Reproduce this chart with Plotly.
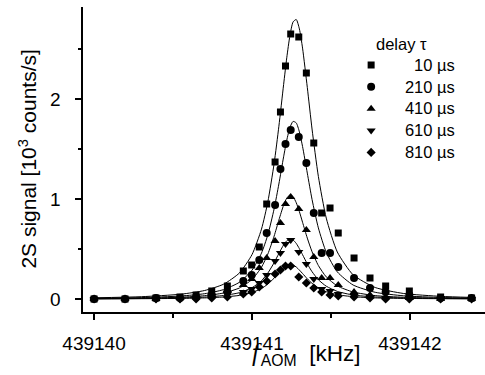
import plotly.graph_objects as go

# ---- data ----
freq_pts = [439140.000, 439140.196, 439140.392, 439140.544, 439140.646, 439140.745, 439140.844,
            439140.945, 439140.998, 439141.046, 439141.093, 439141.146, 439141.180, 439141.212,
            439141.245, 439141.296, 439141.344, 439141.391, 439141.441, 439141.494, 439141.546,
            439141.646, 439141.747, 439141.846, 439141.996, 439142.194, 439142.390]

sig_10 = [0.00, 0.00, 0.01, 0.02, 0.04, 0.08, 0.13, 0.28, 0.34, 0.52, 0.95, 1.37, 1.87, 2.33,
          2.65, 2.62, 2.26, 1.56, 0.86, 0.91, 0.66, 0.41, 0.21, 0.13, 0.08, 0.02, 0.01]
sig_210 = [0.00, 0.00, 0.01, 0.01, 0.02, 0.04, 0.07, 0.18, 0.24, 0.39, 0.66, 0.94, 1.30, 1.55,
           1.69, 1.62, 1.36, 0.86, 0.46, 0.46, 0.32, 0.21, 0.11, 0.07, 0.04, 0.01, 0.01]
sig_410 = [0.00, 0.00, 0.00, 0.01, 0.02, 0.04, 0.09, 0.14, 0.20, 0.31, 0.41, 0.58, 0.76, 0.95,
           1.02, 0.90, 0.69, 0.42, 0.21, 0.21, 0.14, 0.07, 0.04, 0.02, 0.01, 0.00, 0.00]
sig_610 = [0.00, 0.00, 0.00, 0.00, 0.01, 0.03, 0.05, 0.07, 0.10, 0.16, 0.24, 0.38, 0.46, 0.55,
           0.59, 0.47, 0.35, 0.20, 0.10, 0.08, 0.05, 0.03, 0.02, 0.01, 0.01, 0.00, 0.00]
sig_810 = [0.00, 0.00, 0.00, 0.00, 0.00, 0.01, 0.02, 0.05, 0.07, 0.12, 0.18, 0.25, 0.29, 0.33,
           0.33, 0.22, 0.16, 0.11, 0.07, 0.04, 0.03, 0.02, 0.01, 0.00, 0.00, 0.00, 0.00]

# fitted line shapes
fit_freq = [439140.00, 439140.30, 439140.55, 439140.70, 439140.82, 439140.92, 439141.00,
            439141.06, 439141.10, 439141.14, 439141.17, 439141.20, 439141.22, 439141.24,
            439141.26, 439141.28, 439141.30, 439141.32, 439141.35, 439141.38, 439141.42,
            439141.47, 439141.54, 439141.64, 439141.78, 439141.96, 439142.20, 439142.39]
fit_10 = [0.012, 0.023, 0.048, 0.085, 0.148, 0.260, 0.444, 0.699, 0.970, 1.355, 1.727, 2.144,
          2.412, 2.634, 2.771, 2.795, 2.701, 2.509, 2.116, 1.700, 1.226, 0.809, 0.470, 0.242,
          0.115, 0.055, 0.026, 0.016]
fit_210 = [0.007, 0.014, 0.030, 0.053, 0.094, 0.167, 0.288, 0.459, 0.641, 0.902, 1.150, 1.422,
           1.588, 1.715, 1.776, 1.761, 1.671, 1.525, 1.259, 0.996, 0.711, 0.467, 0.271, 0.140,
           0.067, 0.032, 0.015, 0.010]
fit_410 = [0.004, 0.008, 0.018, 0.033, 0.060, 0.110, 0.195, 0.318, 0.449, 0.629, 0.789, 0.939,
           1.009, 1.040, 1.023, 0.963, 0.873, 0.767, 0.609, 0.473, 0.335, 0.221, 0.131, 0.070,
           0.034, 0.017, 0.008, 0.005]
fit_610 = [0.002, 0.005, 0.011, 0.019, 0.035, 0.063, 0.113, 0.183, 0.259, 0.363, 0.455, 0.541,
           0.582, 0.600, 0.590, 0.556, 0.503, 0.443, 0.351, 0.273, 0.193, 0.128, 0.076, 0.040,
           0.020, 0.010, 0.005, 0.003]
fit_810 = [0.001, 0.003, 0.006, 0.011, 0.020, 0.036, 0.065, 0.105, 0.149, 0.209, 0.262, 0.311,
           0.335, 0.345, 0.339, 0.320, 0.289, 0.255, 0.202, 0.157, 0.111, 0.073, 0.043, 0.023,
           0.011, 0.006, 0.003, 0.002]

delay_labels = ["10 \u00b5s", "210 \u00b5s", "410 \u00b5s", "610 \u00b5s", "810 \u00b5s"]
label_pad = ["\u2007\u2007\u00a0", "\u2007\u00a0", "\u2007\u00a0", "\u2007\u00a0", "\u2007\u00a0"]
x_ticks = [439140, 439141, 439142]
y_ticks = [0, 1, 2]

series = [sig_10, sig_210, sig_410, sig_610, sig_810]
fits = [fit_10, fit_210, fit_410, fit_610, fit_810]
symbols = ["square", "circle", "triangle-up", "triangle-down", "diamond"]
sizes = [7, 8, 8, 8, 7]

FONT = "Liberation Sans, Arial, sans-serif"

fig = go.Figure()
for f in fits:
    fig.add_trace(go.Scatter(x=fit_freq, y=f, mode="lines",
                             line=dict(color="black", width=1, shape="spline", smoothing=0.6),
                             showlegend=False, hoverinfo="skip"))
for s, lab, pad, sym, sz in zip(series, delay_labels, label_pad, symbols, sizes):
    fig.add_trace(go.Scatter(x=freq_pts, y=s, mode="markers",
                             name='<span style="font-size:16.5px">' + pad + lab + "</span>",
                             marker=dict(symbol=sym, size=sz, color="black",
                                         line=dict(width=0))))

xr = [439139.930, 439142.475]
yr = [-0.13, 2.92]

fig.update_layout(
    width=485, height=375,
    margin=dict(l=83, r=0, t=7, b=63),
    paper_bgcolor="white", plot_bgcolor="white",
    font=dict(family=FONT, color="black"),
    xaxis=dict(range=xr, showline=True, linewidth=2, linecolor="black",
               ticks="outside", ticklen=6, tickwidth=1.5, tickcolor="black",
               tickmode="array", tickvals=x_ticks, ticktext=[str(v) for v in x_ticks],
               tickfont=dict(family=FONT, size=19, color="black"), ticklabelstandoff=7,
               minor=dict(dtick=0.5, tick0=439140, ticks="outside", ticklen=4,
                          tickwidth=1.5, tickcolor="black", showgrid=False),
               showgrid=False, zeroline=False),
    xaxis2=dict(overlaying="x", side="top", matches="x", anchor="y",
                showline=True, linewidth=2, linecolor="black",
                ticks="inside", ticklen=6, tickwidth=1.5, tickcolor="black",
                tickmode="array", tickvals=x_ticks, showticklabels=False,
                minor=dict(dtick=0.5, tick0=439140, ticks="inside", ticklen=3,
                           tickwidth=1.5, tickcolor="black", showgrid=False),
                showgrid=False, zeroline=False),
    yaxis=dict(range=yr, showline=True, linewidth=2, linecolor="black",
               ticks="outside", ticklen=6, tickwidth=1.5, tickcolor="black",
               tickmode="array", tickvals=y_ticks,
               ticktext=[str(v) + "\u2007" for v in y_ticks],
               tickfont=dict(family=FONT, size=19, color="black"),
               minor=dict(dtick=0.5, tick0=0, ticks="outside", ticklen=3,
                          tickwidth=1.5, tickcolor="black", showgrid=False),
               showgrid=False, zeroline=False),
    yaxis2=dict(overlaying="y", side="right", matches="y", anchor="x",
                showline=False, ticks="inside", ticklen=3, tickwidth=1.5, tickcolor="black",
                tickmode="array", tickvals=y_ticks, showticklabels=False,
                minor=dict(dtick=0.5, tick0=0, ticks="inside", ticklen=3,
                           tickwidth=1.5, tickcolor="black", showgrid=False),
                showgrid=False, zeroline=False),
    legend=dict(x=0.667, y=0.862, xanchor="left", yanchor="top",
                bgcolor="rgba(0,0,0,0)", borderwidth=0,
                font=dict(family=FONT, size=14.5, color="black"),
                tracegroupgap=0),
    showlegend=True,
    annotations=[
        dict(text="delay \u03c4", xref="paper", yref="paper", x=0.7235, y=0.878,
             xanchor="left", yanchor="middle", showarrow=False,
             font=dict(family=FONT, size=16.5, color="black")),
        dict(text="2S signal [10<sup>3</sup> counts/s]", xref="paper", yref="paper",
             x=-0.139, y=0.5, xanchor="center", yanchor="middle", textangle=-90,
             showarrow=False, font=dict(family=FONT, size=21, color="black")),
        dict(text="<span style=\"font-family:'Liberation Serif';font-size:25px\"><i>f</i></span>"
                  "\u200a<sub>AOM</sub>\u00a0\u00a0[kHz]",
             xref="paper", yref="paper", x=0.557, y=-0.138,
             xanchor="center", yanchor="middle", showarrow=False,
             font=dict(family=FONT, size=22.5, color="black")),
    ],
)

fig.write_html("out.html", config={"displayModeBar": False},
               post_script="document.body.style.margin='0';")
